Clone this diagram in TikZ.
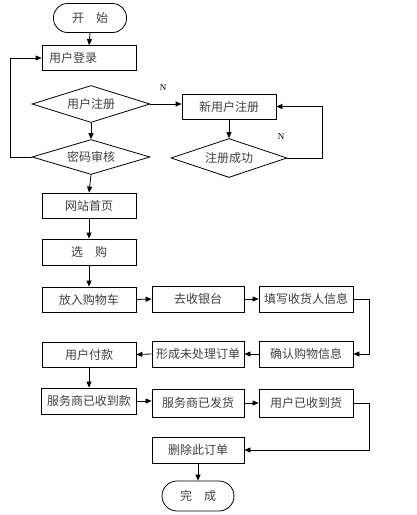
\documentclass[tikz,border=0pt]{standalone}
\usepackage{fontspec}
\setmainfont{Liberation Serif}
\newfontfamily\cjk{Noto Sans CJK SC}
\usetikzlibrary{shapes.geometric,arrows.meta}
\begin{document}
\begin{tikzpicture}[x=1pt,y=-1pt,
  every node/.style={font=\cjk\fontsize{12}{14}\selectfont, text=black!75},
  box/.style={draw=black, line width=0.8pt, minimum width=94pt, minimum height=25pt, inner sep=0pt},
  term/.style={draw=black, line width=0.8pt, rounded corners=14pt, minimum width=73pt, minimum height=29pt, inner sep=0pt},
  dia/.style={draw=black, line width=0.8pt, shape=diamond, shape aspect=3, minimum width=118pt, minimum height=37pt, inner sep=0pt},
  arr/.style={draw=black, line width=0.8pt, -{Triangle[length=6pt,width=5pt]}},
  ln/.style={draw=black, line width=0.8pt},
  lab/.style={font=\rmfamily\fontsize{9}{10}\selectfont, text=black}
]
\useasboundingbox (0,0) rectangle (417,515);
\fill[white] (0,0) rectangle (417,515);

\node[term] (start) at (90,18) {开\hspace{1em}始};
\node[box, text width=80pt, inner xsep=7pt, align=left] (login) at (89,58) {用户登录};
\node[dia] (d1) at (91,104) {用户注册};
\node[dia, minimum height=35pt] (d2) at (91,157) {密码审核};
\node[box] (newu) at (229,106.5) {新用户注册};
\node[dia, minimum width=116pt, minimum height=39pt] (succ) at (229,158) {注册成功};
\node[box] (home) at (89,205.5) {网站首页};
\node[box, minimum height=26pt] (buy) at (89,252) {选\hspace{1em}购};
\node[box] (cart) at (89,299.5) {放入购物车};
\node[box, minimum width=92pt, minimum height=26pt] (cash) at (198,299) {去收银台};
\node[box, minimum height=26pt] (fill) at (306,299) {填写收货人信息};
\node[box, minimum height=26pt] (conf) at (306,354) {确认购物信息};
\node[box, minimum width=92pt, minimum height=26pt] (form) at (198,354) {形成未处理订单};
\node[box] (pay) at (89,354.5) {用户付款};
\node[box, minimum width=95pt, minimum height=26pt] (recv) at (89,401) {服务商已收到款};
\node[box, minimum width=92pt, minimum height=28pt] (ship) at (198,403) {服务商已发货};
\node[box, minimum height=28pt] (got) at (306,403) {用户已收到货};
\node[box, minimum width=92pt, minimum height=26pt] (del) at (198,450) {删除此订单};
\node[term, minimum width=72pt, minimum height=30pt, rounded corners=15pt] (fin) at (198,496) {完\hspace{1em}成};

\node[lab] (n1) at (163,88) {N};
\node[lab] (n2) at (281,137) {N};

\draw[arr] (start.south) -- (login.north);
\draw[arr] (d1.south) -- (d2.north);
\draw[arr] (d2.west) -- ++(-21,0) |- (login.west);
\draw[arr] (d1.east) -- (d1.east -| newu.west);
\draw[arr] (newu.south) -- (succ.north);
\draw[arr] (succ.east) -- ++(35,0) |- (newu.east);
\draw[arr] (d2.south) -- (home.north);
\draw[arr] (home.south) -- (buy.north);
\draw[arr] (buy.south) -- (cart.north);
\draw[arr] (cart.east) -- (cash.west);
\draw[arr] (cash.east) -- (fill.west);
\draw[arr] (fill.east) -- ++(16,0) |- (conf.east);
\draw[arr] (conf.west) -- (form.east);
\draw[arr] (form.west) -- (pay.east);
\draw[arr] (pay.south) -- (recv.north);
\draw[arr] (recv.east) -- (recv.east -| ship.west);
\draw[arr] (ship.east) -- (got.west);
\draw[arr] (got.east) -- ++(16,0) |- (del.east);
\draw[arr] (del.south) -- (fin.north);
\end{tikzpicture}
\end{document}
